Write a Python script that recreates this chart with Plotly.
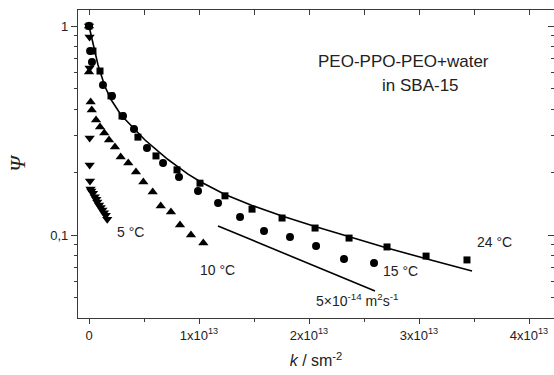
import plotly.graph_objects as go

E13 = 1e13

# 24 °C (squares), k in units of 1e13 s m^-2
k24 = [0.0, 0.036, 0.10, 0.20, 0.30, 0.445, 0.609, 0.80, 1.009, 1.236, 1.482, 1.755, 2.055, 2.364, 2.709, 3.064, 3.436]
psi24 = [1.0, 0.759, 0.609, 0.463, 0.371, 0.294, 0.239, 0.205, 0.177, 0.154, 0.133, 0.1206, 0.108, 0.0967, 0.0877, 0.0793, 0.0760]

# 15 °C (circles)
k15 = [0.0, 0.01, 0.027, 0.127, 0.209, 0.309, 0.409, 0.527, 0.673, 0.818, 0.991, 1.173, 1.373, 1.591, 1.827, 2.064, 2.318, 2.591]
psi15 = [1.0, 0.759, 0.673, 0.522, 0.463, 0.371, 0.3215, 0.2608, 0.2211, 0.1895, 0.1624, 0.1422, 0.1220, 0.1045, 0.0978, 0.0886, 0.0768, 0.0735]

# 10 °C (up triangles)
k10 = [0.0, 0.0, 0.015, 0.025, 0.064, 0.10, 0.139, 0.182, 0.236, 0.288, 0.357, 0.427, 0.494, 0.579, 0.652, 0.745, 0.827, 0.927, 1.039]
psi10 = [1.0, 0.603, 0.433, 0.396, 0.355, 0.3287, 0.3076, 0.2848, 0.2636, 0.236, 0.2211, 0.2002, 0.1793, 0.1606, 0.1376, 0.1288, 0.1116, 0.100, 0.0916]

# 5 °C (down triangles)
k5 = [0.0, 0.005, 0.005, 0.006, 0.006, 0.009, 0.014, 0.021, 0.036, 0.052, 0.066, 0.075, 0.091, 0.106, 0.121, 0.136, 0.152, 0.166]
psi5 = [1.0, 0.886, 0.63, 0.291, 0.2163, 0.1813, 0.166, 0.1624, 0.1583, 0.1525, 0.1482, 0.1438, 0.1391, 0.1356, 0.1317, 0.1278, 0.1242, 0.1189]

# fit curve through 24 °C data
kfit = [0.0, 0.027, 0.055, 0.082, 0.143, 0.20, 0.291, 0.40, 0.509, 0.627, 0.718, 0.80, 0.90, 1.009, 1.236, 1.482, 1.755, 2.055, 2.364, 2.709, 3.073, 3.40, 3.482]
psifit = [1.0, 0.857, 0.7345, 0.6506, 0.5163, 0.4449, 0.3751, 0.3251, 0.2848, 0.2523, 0.2298, 0.2138, 0.1957, 0.1803, 0.1562, 0.1384, 0.1233, 0.1098, 0.0978, 0.0867, 0.0768, 0.0691, 0.0673]

# reference slope line D = 5e-14 m^2/s
kref = [1.173, 2.60]
psiref = [0.1104, 0.054]

xtick_vals = [0, 1, 2, 3, 4]
xtick_text = ["0", "1x10<sup>13</sup>", "2x10<sup>13</sup>", "3x10<sup>13</sup>", "4x10<sup>13</sup>"]
ytick_vals = [0.1, 1]
ytick_text = ["0,1", "1"]
yminor_vals = [0.04, 0.05, 0.06, 0.07, 0.08, 0.09, 0.2, 0.3, 0.4, 0.5, 0.6, 0.7, 0.8, 0.9]
xminor_vals = [0.5, 1.5, 2.5, 3.5]
xtop_vals = [0, 0.5, 1, 1.5, 2, 2.5, 3, 3.5, 4]

FONT = "Liberation Sans, Arial, sans-serif"
AX = "#3a3a3a"

def sc(v):
    return [a * E13 for a in v]

fig = go.Figure()
fig.add_trace(go.Scatter(x=sc(kfit), y=psifit, mode="lines",
                         line=dict(color="black", width=1.6),
                         showlegend=False, hoverinfo="skip"))
fig.add_trace(go.Scatter(x=sc(kref), y=psiref, mode="lines",
                         line=dict(color="black", width=1.6), showlegend=False))
fig.add_trace(go.Scatter(x=sc(k24), y=psi24, mode="markers",
                         marker=dict(symbol="square", size=7, color="black"), showlegend=False))
fig.add_trace(go.Scatter(x=sc(k15), y=psi15, mode="markers",
                         marker=dict(symbol="circle", size=8, color="black"), showlegend=False))
fig.add_trace(go.Scatter(x=sc(k10), y=psi10, mode="markers",
                         marker=dict(symbol="triangle-up", size=9, color="black"), showlegend=False))
fig.add_trace(go.Scatter(x=sc(k5), y=psi5, mode="markers",
                         marker=dict(symbol="triangle-down", size=9, color="black"), showlegend=False))
# dummy trace for mirror axes
fig.add_trace(go.Scatter(x=[None], y=[None], xaxis="x2", yaxis="y2", showlegend=False, hoverinfo="skip"))

xr = [-0.1 * E13, 4.227 * E13]
yr = [-1.397, 0.0766]

fig.update_layout(
    width=554, height=375,
    margin=dict(l=78, r=0, t=10, b=57),
    paper_bgcolor="white", plot_bgcolor="white",
    font=dict(family=FONT, size=13, color="#222"),
    xaxis=dict(range=xr, tickvals=sc(xtick_vals), ticktext=xtick_text,
               ticks="outside", ticklen=5, tickwidth=1.2, tickcolor=AX,
               minor=dict(tickvals=sc(xminor_vals), ticks="outside", ticklen=3, tickwidth=1.2, tickcolor=AX),
               showline=True, linecolor=AX, linewidth=1.3, showgrid=False, zeroline=False,
               tickfont=dict(size=13),
               title=dict(text="<i>k</i> / sm<sup>-2</sup>", font=dict(size=16), standoff=13)),
    xaxis2=dict(range=xr, overlaying="x", side="top", tickvals=sc(xtop_vals),
                ticks="inside", ticklen=5, tickwidth=1.2, tickcolor=AX,
                showticklabels=False, showline=True, linecolor=AX, linewidth=1.3,
                showgrid=False, zeroline=False),
    yaxis=dict(type="log", range=yr, tickvals=ytick_vals, ticktext=ytick_text,
               ticks="outside", ticklen=6, tickwidth=1.2, tickcolor=AX,
               minor=dict(tickvals=yminor_vals, ticks="outside", ticklen=3, tickwidth=1.2, tickcolor=AX),
               showline=True, linecolor=AX, linewidth=1.3, showgrid=False, zeroline=False,
               tickfont=dict(size=13),
               title=dict(text="<i>Ψ</i>", font=dict(size=22, family="Liberation Serif, Times New Roman, serif"), standoff=18)),
    yaxis2=dict(type="log", range=yr, overlaying="y", side="right", tickvals=ytick_vals,
                ticks="inside", ticklen=6, tickwidth=1.2, tickcolor=AX,
                minor=dict(tickvals=yminor_vals, ticks="inside", ticklen=3, tickwidth=1.2, tickcolor=AX),
                showticklabels=False, showline=True, linecolor=AX, linewidth=1.3,
                showgrid=False, zeroline=False),
)

def ann(text, px, py, size=14):
    fig.add_annotation(text=text, xref="paper", yref="paper",
                       x=(px - 78) / 476, y=(318 - py) / 308,
                       showarrow=False, font=dict(size=size, family=FONT, color="#222"),
                       xanchor="center", yanchor="middle")

ann("5 °C", 130, 232)
ann("10 °C", 217, 270)
ann("15 °C", 400, 271)
ann("24 °C", 494, 242)
ann("5×10<sup>-14</sup> m<sup>2</sup>s<sup>-1</sup>", 357, 300)
ann("PEO-PPO-PEO+water", 403, 61, size=17)
ann("in SBA-15", 420, 86, size=17)

fig.write_html("out.html")
